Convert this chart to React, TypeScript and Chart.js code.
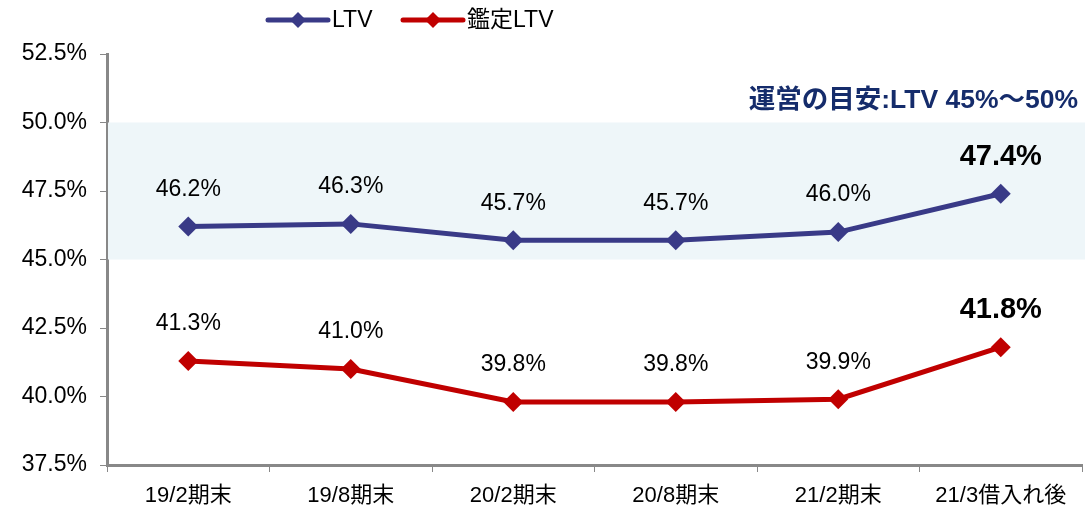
import React, { useEffect, useRef } from "react";
import { Chart, registerables } from "chart.js";

Chart.register(...registerables);

const categories = ["19/2期末", "19/8期末", "20/2期末", "20/8期末", "21/2期末", "21/3借入れ後"];
const ltvValues = [46.2, 46.3, 45.7, 45.7, 46.0, 47.4];
const appraisalLtvValues = [41.3, 41.0, 39.8, 39.8, 39.9, 41.8];
const seriesNames = ["LTV", "鑑定LTV"];
const yTicks = [37.5, 40.0, 42.5, 45.0, 47.5, 50.0, 52.5];
const targetBand = [45, 50];
const targetText = "運営の目安:LTV 45%～50%";

const BLUE = "#393A87";
const RED = "#C00000";
const FONT = '"Liberation Sans", Arial, "Noto Sans CJK JP", sans-serif';

const decorPlugin = {
  id: "decor",
  beforeDatasetsDraw(chart: any) {
    const { ctx, chartArea, scales } = chart;
    const y = scales.y;
    const top = y.getPixelForValue(targetBand[1]);
    const bottom = y.getPixelForValue(targetBand[0]);
    ctx.save();
    ctx.fillStyle = "#EEF6F9";
    ctx.fillRect(chartArea.left + 1, top, chartArea.right - chartArea.left + 4, bottom - top);
    ctx.restore();
  },
  afterDatasetsDraw(chart: any) {
    const { ctx } = chart;
    ctx.save();
    chart.data.datasets.forEach((ds: any, di: number) => {
      const meta = chart.getDatasetMeta(di);
      meta.data.forEach((pt: any, i: number) => {
        const last = i === ds.data.length - 1;
        ctx.font = last ? `bold 29px ${FONT}` : `23px ${FONT}`;
        ctx.fillStyle = "#000";
        ctx.textAlign = "center";
        ctx.textBaseline = "middle";
        ctx.fillText(ds.data[i].toFixed(1) + "%", pt.x, pt.y - 37);
      });
    });
    // target annotation
    ctx.font = `bold 26.5px ${FONT}`;
    ctx.fillStyle = "#152C6B";
    ctx.textAlign = "right";
    ctx.textBaseline = "middle";
    ctx.fillText(targetText, 1078, 101);

    // legend
    const items = [
      { name: seriesNames[0], color: BLUE, x: 268 },
      { name: seriesNames[1], color: RED, x: 403 },
    ];
    items.forEach((it) => {
      const ly = 20;
      ctx.strokeStyle = it.color;
      ctx.lineWidth = 5;
      ctx.lineCap = "round";
      ctx.beginPath();
      ctx.moveTo(it.x, ly);
      ctx.lineTo(it.x + 60, ly);
      ctx.stroke();
      ctx.fillStyle = it.color;
      ctx.beginPath();
      const cx = it.x + 30;
      ctx.moveTo(cx, ly - 8);
      ctx.lineTo(cx + 8, ly);
      ctx.lineTo(cx, ly + 8);
      ctx.lineTo(cx - 8, ly);
      ctx.closePath();
      ctx.fill();
      ctx.fillStyle = "#000";
      ctx.font = `23px ${FONT}`;
      ctx.textAlign = "left";
      ctx.textBaseline = "middle";
      ctx.fillText(it.name, it.x + 64, ly + 1);
    });
    ctx.restore();
  },
};

export default function App() {
  const ref = useRef<HTMLCanvasElement>(null);
  useEffect(() => {
    if (!ref.current) return;
    const chart = new Chart(ref.current, {
      type: "line",
      data: {
        labels: categories,
        datasets: [
          {
            label: seriesNames[0],
            data: ltvValues,
            borderColor: BLUE,
            backgroundColor: BLUE,
            borderWidth: 5,
            pointStyle: "rectRot",
            pointRadius: 10,
            pointBorderWidth: 0,
            tension: 0,
          },
          {
            label: seriesNames[1],
            data: appraisalLtvValues,
            borderColor: RED,
            backgroundColor: RED,
            borderWidth: 5,
            pointStyle: "rectRot",
            pointRadius: 10,
            pointBorderWidth: 0,
            tension: 0,
          },
        ],
      },
      plugins: [decorPlugin],
      options: {
        responsive: false,
        animation: false,
        devicePixelRatio: 1,
        layout: { padding: { top: 54, right: 0, left: 0, bottom: 0 } },
        plugins: { legend: { display: false }, tooltip: { enabled: false } },
        scales: {
          x: {
            type: "category",
            offset: true,
            grid: {
              offset: true,
              drawOnChartArea: false,
              drawTicks: true,
              tickLength: 7,
              color: "#888",
              lineWidth: 1,
            },
            border: { color: "#888", width: 3 },
            ticks: {
              color: "#000",
              font: { family: FONT, size: 22 },
              padding: 11,
              maxRotation: 0,
              autoSkip: false,
            },
            afterFit(scale: any) {
              scale.height = 44;
            },
          },
          y: {
            min: 37.5,
            max: 52.5,
            afterBuildTicks(scale: any) {
              scale.ticks = yTicks.map((v) => ({ value: v }));
            },
            grid: {
              drawOnChartArea: false,
              drawTicks: true,
              tickLength: 7,
              color: "#888",
              lineWidth: 1,
            },
            border: { color: "#888", width: 3 },
            ticks: {
              color: "#000",
              font: { family: FONT, size: 23 },
              padding: 13,
              callback: (v: any) => Number(v).toFixed(1) + "%",
            },
            afterFit(scale: any) {
              scale.width = 107;
            },
          },
        },
      },
    } as any);
    return () => chart.destroy();
  }, []);
  return (
    <div style={{ position: "fixed", left: 0, top: 0, width: 1085, height: 509, overflow: "hidden", background: "#fff" }}>
      <canvas ref={ref} width={1092} height={509} style={{ display: "block" }} />
    </div>
  );
}
